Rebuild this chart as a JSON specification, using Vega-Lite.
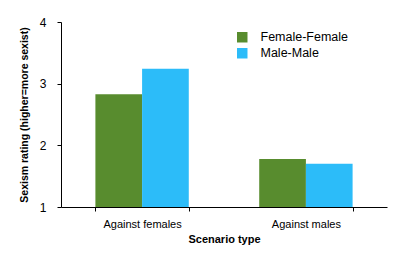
{
  "$schema": "https://vega.github.io/schema/vega-lite/v6.json",
  "autosize": {"type": "none"},
  "padding": {"left": 61, "top": 22, "right": 18, "bottom": 51},
  "width": 326,
  "height": 185,
  "background": "white",
  "config": {
    "view": {"stroke": null},
    "font": "Liberation Sans",
    "axis": {"domainColor": "black", "tickColor": "black", "labelColor": "black", "titleColor": "black", "grid": false}
  },
  "data": {"values": [
    {"scenario": "Against females", "group": "Female-Female", "rating": 2.83},
    {"scenario": "Against females", "group": "Male-Male", "rating": 3.24},
    {"scenario": "Against males", "group": "Female-Female", "rating": 1.78},
    {"scenario": "Against males", "group": "Male-Male", "rating": 1.70}
  ]},
  "mark": {"type": "bar", "clip": true},
  "encoding": {
    "x": {
      "field": "scenario", "type": "nominal",
      "scale": {"paddingInner": 0.43, "paddingOuter": 0.21},
      "axis": {"title": "Scenario type", "labelAngle": 0, "tickBand": "extent", "tickSize": 4, "labelFontSize": 11, "labelPadding": 7, "titleFontSize": 11, "titleFontWeight": "bold", "titlePadding": 4}
    },
    "xOffset": {"field": "group", "type": "nominal", "scale": {"paddingInner": 0, "paddingOuter": 0}},
    "y": {
      "field": "rating", "type": "quantitative",
      "scale": {"domain": [1, 4], "nice": false, "zero": false},
      "axis": {"title": "Sexism rating (higher=more sexist)", "values": [1, 2, 3, 4], "tickSize": 4, "labelFontSize": 12, "labelPadding": 11, "titleFontSize": 10.5, "titleFontWeight": "bold", "titlePadding": 10}
    },
    "color": {
      "field": "group", "type": "nominal",
      "scale": {"domain": ["Female-Female", "Male-Male"], "range": ["#588c2e", "#2cbcf9"]},
      "legend": {"title": null, "orient": "none", "legendX": 175, "legendY": 9, "symbolType": "square", "symbolSize": 110, "symbolStrokeWidth": 0, "labelFontSize": 12.5, "labelOffset": 12, "rowPadding": 3, "labelColor": "black"}
    }
  }
}
